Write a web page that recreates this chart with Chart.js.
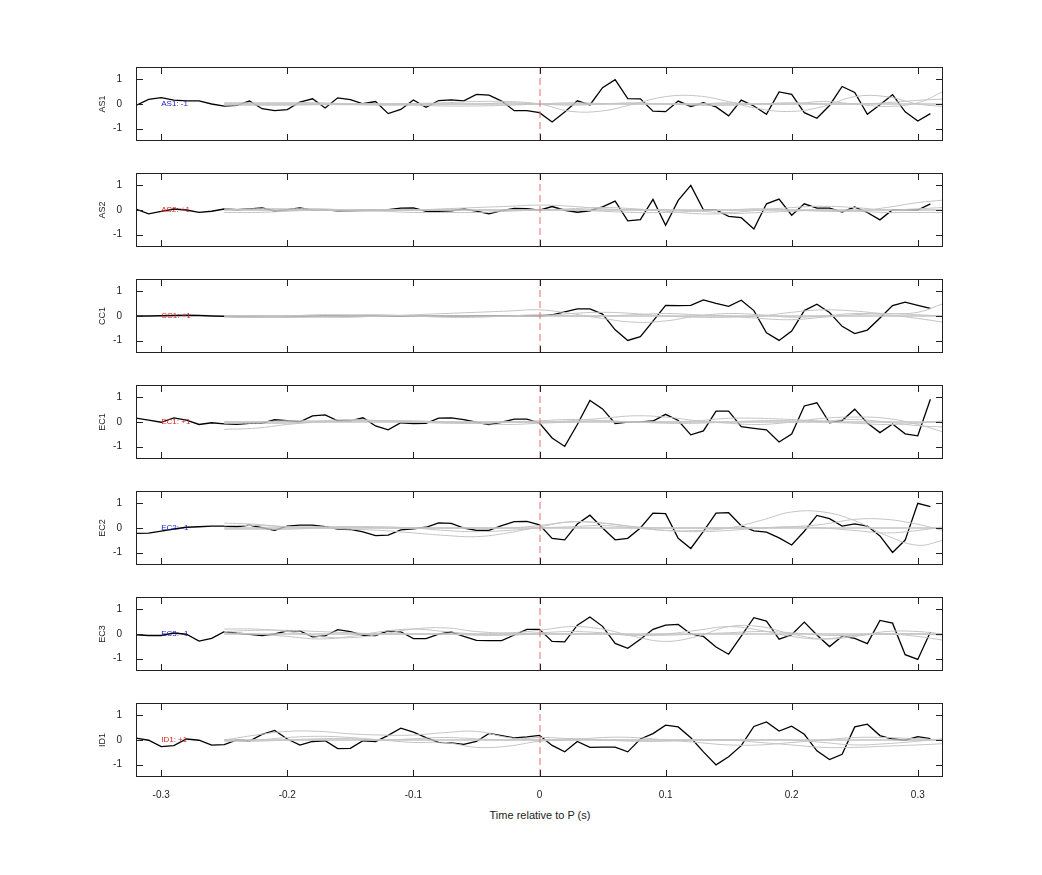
<!DOCTYPE html>
<html><head><meta charset="utf-8">
<script src="https://cdn.jsdelivr.net/npm/chart.js@4"></script>
<style>
body{margin:0;background:#fff;width:1042px;height:875px;position:relative;font-family:"Liberation Sans",Arial,sans-serif;overflow:hidden}
.w{position:absolute;left:86px;width:870px}
#xt{position:absolute;left:0;width:1080px;text-align:center;top:809px;font-size:11px;color:#222}
</style></head><body>
<div id="xt">Time relative to P (s)</div>
<script>
// time samples (s) for the black traces, -0.32 .. 0.31 step 0.01
const timeSec = Array.from({length:64},(_, i)=>Math.round((-0.32+0.01*i)*100)/100);
// time samples for the grey traces
const grayTime = [-0.25,-0.225,-0.2,-0.175,-0.15,-0.125,-0.1,-0.075,-0.05,-0.025,0,0.025,0.05,0.075,0.1,0.125,0.15,0.175,0.2,0.225,0.25,0.275,0.3,0.32];

const channels = ["AS1","AS2","CC1","EC1","EC2","EC3","ID1"];
const polarity = ["AS1: -1","AS2: +1","CC1: +1","EC1: +1","EC2: -1","EC3: -1","ID1: +1"];
const polColor = ["#1a1acc","#dd2222","#dd2222","#dd2222","#1a1acc","#1a1acc","#dd2222"];
const xTicks = [-0.3,-0.2,-0.1,0,0.1,0.2,0.3];
const yTicks = [-1,0,1];

const AS1 = [-0.06,0.19,0.26,0.16,0.13,0.13,0,-0.09,-0.06,0.12,-0.19,-0.27,-0.23,0.08,0.21,-0.16,0.25,0.18,0.01,0.1,-0.39,-0.22,0.16,-0.13,0.14,0.17,0.13,0.39,0.36,0.12,-0.27,-0.27,-0.35,-0.73,-0.32,0.13,-0.04,0.66,0.99,0.22,0.21,-0.29,-0.31,0.12,-0.1,0.05,-0.12,-0.48,0.16,-0.08,-0.42,0.49,0.39,-0.35,-0.58,-0.06,0.71,0.47,-0.42,-0.03,0.38,-0.32,-0.69,-0.39];
const AS2 = [0.04,-0.16,-0.06,0.04,0,-0.1,-0.05,0.04,0.01,0.04,0.08,-0.04,0.01,0.08,-0.01,0.01,-0.03,-0.03,-0.01,-0.01,0.01,0.08,0.09,-0.05,-0.05,-0.03,0.04,-0.05,-0.16,-0.03,0.06,0.05,-0.01,0.14,-0.01,-0.09,-0.03,0.13,0.36,-0.44,-0.39,0.43,-0.62,0.39,1.0,0.01,0,-0.26,-0.31,-0.77,0.25,0.44,-0.21,0.25,0.08,0.08,-0.08,0.12,-0.1,-0.4,0.01,0.01,0,0.25];
const CC1 = [0,0,0.01,0.02,0.03,0.02,0,-0.01,-0.02,-0.02,-0.02,-0.02,-0.02,-0.01,0,0.01,0.01,0,0,0,-0.01,-0.01,-0.01,0,0,0,0,0.01,0.01,0.01,0.01,0.01,0,0.05,0.17,0.29,0.29,0.08,-0.56,-0.99,-0.84,-0.21,0.43,0.42,0.43,0.65,0.51,0.39,0.64,0.22,-0.68,-0.99,-0.61,0.22,0.48,0.14,-0.42,-0.71,-0.57,-0.08,0.42,0.56,0.43,0.31];
const EC1 = [0.16,0.08,-0.01,0.17,0.08,-0.1,-0.03,-0.08,-0.1,-0.05,-0.05,0.09,0.05,0.01,0.25,0.29,0.05,0.05,0.17,-0.16,-0.32,-0.03,-0.06,-0.05,0.16,0.17,0.1,-0.01,-0.1,-0.01,0.12,0.12,-0.04,-0.65,-0.99,-0.1,0.87,0.53,-0.06,0,0,0.04,0.31,0.06,-0.52,-0.36,0.44,0.44,-0.19,-0.26,-0.32,-0.81,-0.49,0.65,0.78,-0.03,0.06,0.52,-0.04,-0.43,-0.08,-0.48,-0.56,0.92];
const EC2 = [-0.22,-0.21,-0.13,-0.04,0.03,0.05,0.08,0.08,0.05,0.12,0.01,-0.09,0.08,0.12,0.12,0.06,-0.04,-0.06,-0.16,-0.31,-0.29,-0.08,-0.03,0.03,0.21,0.19,0,-0.1,-0.1,0.1,0.26,0.27,0.13,-0.42,-0.48,0.16,0.52,0,-0.48,-0.42,0,0.6,0.58,-0.42,-0.83,-0.14,0.6,0.62,0.09,-0.12,-0.17,-0.4,-0.69,-0.13,0.51,0.38,0.08,0.17,0.08,-0.32,-0.99,-0.49,1.0,0.87];
const EC3 = [-0.03,-0.06,-0.06,0.04,-0.01,-0.29,-0.18,0.09,0.03,-0.01,-0.06,0,0.13,0.13,-0.12,-0.08,0.18,0.1,-0.05,-0.06,0.13,0.09,-0.19,-0.19,-0.01,0.08,-0.1,-0.26,-0.27,-0.27,-0.04,0.19,0.19,-0.3,-0.32,0.36,0.69,0.31,-0.38,-0.58,-0.21,0.19,0.36,0.39,0,-0.1,-0.53,-0.82,-0.09,0.66,0.52,-0.21,-0.03,0.48,-0.04,-0.51,-0.09,-0.18,-0.39,0.55,0.44,-0.84,-1.03,0.08];
const ID1 = [0.08,-0.01,-0.27,-0.23,0.04,-0.01,-0.21,-0.19,0,-0.04,0.23,0.39,0.04,-0.21,-0.06,-0.03,-0.35,-0.34,-0.03,-0.06,0.19,0.48,0.32,0.1,-0.1,-0.12,-0.18,-0.06,0.27,0.18,0.09,0.13,0.19,-0.22,-0.48,-0.06,-0.3,-0.29,-0.29,-0.48,0.04,0.26,0.6,0.53,0.09,-0.48,-1.01,-0.68,-0.23,0.55,0.73,0.36,0.56,0.23,-0.44,-0.79,-0.58,0.53,0.64,0.18,0.04,-0.01,0.14,0.06];

const grayAS1 = [
 [0,0,0,0,0,0,0.02,0.05,0.1,0.1,0,-0.3,-0.28,0,0.3,0.33,0.1,-0.2,-0.3,-0.1,0.3,0.3,0,-0.1],
 [0.05,0.05,0.05,0.05,0,0,0,0,0,0.05,0,-0.05,0,0.05,0,0,0.05,0,0,0.1,0,-0.1,0.05,0.5],
 [-0.05,-0.05,-0.05,-0.03,-0.03,-0.05,-0.05,-0.08,-0.08,-0.05,0,0.05,0.02,0,0,-0.05,-0.05,0,0.05,0,0,0.05,0.15,0.2]];
const grayAS2 = [
 [-0.1,-0.1,-0.05,0,0,0,0,0.05,0.1,0.15,0.2,0.15,0.05,0,0,-0.05,-0.1,0,0.1,0.15,0.1,0,0.05,0.1],
 [0.05,0,0,0,-0.05,-0.05,-0.1,-0.1,-0.1,-0.05,0,0,-0.05,-0.1,-0.1,-0.05,0,0.05,0,-0.05,-0.05,0.1,0.3,0.4],
 [0,0.05,0.05,0.05,0,0,0,0,0,0,0,0.05,0.1,0.05,-0.05,-0.15,-0.15,-0.1,-0.05,0,-0.05,-0.1,-0.1,-0.1]];
const grayCC1 = [
 [0,0,0,0,0,0,0.05,0.1,0.15,0.2,0.25,0.1,-0.1,-0.25,-0.2,0,0.1,0.05,-0.05,0,0.1,0.05,-0.1,-0.25],
 [0,0,-0.05,-0.05,-0.05,0,0,0,0,0,0,0.1,0.15,0.1,0,-0.05,-0.05,0,0.15,0.25,0.2,0.1,0.15,0.5],
 [-0.05,-0.05,0,0.05,0.05,0.05,0,-0.05,-0.05,0,0.05,0,0,0.05,0.1,0.05,0,-0.1,-0.15,-0.05,0.05,0.1,0.05,0]];
const grayEC1 = [
 [-0.3,-0.25,-0.1,0,0.05,0.05,0,0,0,0,0,0.05,0.15,0.25,0.2,0.05,-0.05,-0.1,0,0.15,0.2,0.15,-0.1,-0.4],
 [0,0,0.05,0.05,0.1,0.05,0,-0.05,-0.05,0,0.05,0.1,0.05,0,0,0.05,0.15,0.15,0.1,0.05,0.1,0,-0.15,-0.2],
 [-0.05,-0.05,-0.05,0,0.05,0.05,0.05,0,-0.05,-0.1,-0.05,0,0.05,0,-0.05,-0.05,0,0.05,0.05,0,-0.05,-0.1,-0.05,0.05]];
const grayEC2 = [
 [0.1,0.1,0.05,0,-0.05,-0.1,-0.2,-0.3,-0.35,-0.2,0.05,0.25,0.2,0.05,-0.1,-0.1,0,0.3,0.65,0.65,0.3,-0.3,-0.7,-0.5],
 [0.2,0.15,0.05,0.05,0.05,0,0,0,0,0,0.1,0.25,0.2,0.05,0,0,0,0,0.05,0.15,0.35,0.35,0.15,-0.1],
 [-0.05,-0.05,-0.05,0,0.05,0.05,0,-0.1,-0.15,-0.1,0,0.05,0.1,0,-0.1,-0.15,-0.1,0,0.05,0,-0.1,-0.2,-0.1,0.05]];
const grayEC3 = [
 [0.2,0.2,0.1,-0.1,-0.15,0,0.2,0.25,0.1,0.05,0.15,0.3,0.2,-0.1,-0.3,-0.1,0.3,0.3,0,-0.2,-0.1,0.1,0.1,0],
 [0.05,0,-0.1,-0.2,-0.1,0.1,0.2,0.1,0,0,0.05,0.1,0.05,-0.05,0,0.15,0.3,0.15,-0.1,-0.2,-0.05,0,-0.1,-0.25],
 [0.1,0.15,0.15,0.1,0.05,0,0,0,-0.05,-0.05,0,0,0,-0.05,-0.05,0,0.05,0.1,0.05,-0.05,-0.05,0,0,-0.05]];
const grayID1 = [
 [0,0.2,0.35,0.35,0.25,0.2,0.2,0.3,0.35,0.1,0,0.05,0,-0.05,-0.05,0,0,0,0,-0.1,-0.2,-0.15,-0.05,0.05],
 [0,0,0.1,0.15,0.1,0,-0.1,-0.1,-0.3,-0.25,-0.05,0,0.1,0.1,0,-0.1,-0.2,-0.2,-0.1,0,0.1,0.1,0.05,0],
 [-0.05,-0.05,0,0.05,0.05,0,0.05,0.1,0.05,0,0.1,0.05,0,0,0,0,0,-0.1,-0.2,-0.3,-0.3,-0.25,-0.2,-0.15]];
const grayFlat = [0,0,0,0,0,0,0,0,0,0,0,0,0,0,0,0,0,0,0,0,0,0,0,0];

const blackSeries = [AS1,AS2,CC1,EC1,EC2,EC3,ID1];
const graySeries = [grayAS1,grayAS2,grayCC1,grayEC1,grayEC2,grayEC3,grayID1];
const panelTops = [67,173,279,385,491,597,703];

const frame = {
  id:'frame',
  afterDraw(c, a, o){
    const ctx=c.ctx, ca=c.chartArea, xs=c.scales.x, ys=c.scales.y;
    ctx.save();
    ctx.strokeStyle='#e07070'; ctx.lineWidth=1; ctx.setLineDash([7,4]);
    const x0=xs.getPixelForValue(0);
    ctx.beginPath(); ctx.moveTo(x0+0.5,ca.top); ctx.lineTo(x0+0.5,ca.bottom); ctx.stroke();
    ctx.setLineDash([]);
    ctx.strokeStyle='#222'; ctx.lineWidth=1;
    ctx.strokeRect(ca.left+0.5,ca.top+0.5,ca.right-ca.left-1,ca.bottom-ca.top-1);
    ctx.beginPath();
    xTicks.forEach(v=>{const p=Math.round(xs.getPixelForValue(v))+0.5;
      ctx.moveTo(p,ca.bottom);ctx.lineTo(p,ca.bottom-7);ctx.moveTo(p,ca.top);ctx.lineTo(p,ca.top+7);});
    yTicks.forEach(v=>{const p=Math.round(ys.getPixelForValue(v))+0.5;
      ctx.moveTo(ca.left,p);ctx.lineTo(ca.left+7,p);ctx.moveTo(ca.right,p);ctx.lineTo(ca.right-7,p);});
    ctx.stroke();
    ctx.fillStyle=o.color; ctx.font='8px "Liberation Sans", Arial'; ctx.textBaseline='middle';
    ctx.fillText(o.text, xs.getPixelForValue(-0.3), ys.getPixelForValue(0));
    ctx.translate(ca.left-33, (ca.top+ca.bottom)/2); ctx.rotate(-Math.PI/2);
    ctx.fillStyle='#222'; ctx.textAlign='center'; ctx.textBaseline='middle';
    ctx.font='9px "Liberation Sans", Arial';
    ctx.fillText(o.name,0,0);
    ctx.restore();
  }
};

channels.forEach((name,k)=>{
  const last = k===channels.length-1;
  const div=document.createElement('div'); div.className='w';
  div.style.top=panelTops[k]+'px';
  const h = 74+(last?22:0);
  div.style.height=h+'px';
  const cv=document.createElement('canvas'); div.appendChild(cv); document.body.appendChild(div);
  const ds=[];
  graySeries[k].forEach(g=>ds.push({data:grayTime.map((t,i)=>({x:t,y:g[i]})),borderColor:'#c4c4c4',borderWidth:1,tension:0.4,pointRadius:0}));
  ds.push({data:grayTime.map((t,i)=>({x:t,y:grayFlat[i]})),borderColor:'#c4c4c4',borderWidth:1.5,pointRadius:0});
  ds.push({data:timeSec.map((t,i)=>({x:t,y:blackSeries[k][i]})),borderColor:'#000',borderWidth:1.3,pointRadius:0,tension:0});
  new Chart(cv,{type:'line',data:{datasets:ds},
    options:{responsive:true,maintainAspectRatio:false,animation:false,
      layout:{padding:{top:0,right:13,left:0,bottom:0}},
      plugins:{legend:{display:false},tooltip:{enabled:false},frame:{text:polarity[k],color:polColor[k],name:name}},
      scales:{
        x:{type:'linear',display:last,min:-0.32,max:0.32,grid:{display:false},border:{display:false},
          afterBuildTicks:s=>{s.ticks=xTicks.map(v=>({value:v}));},
          afterFit:s=>{s.height=last?22:0;s.paddingLeft=0;s.paddingRight=0;},
          ticks:{color:'#222',font:{size:10,family:'"Liberation Sans", Arial'},padding:4,maxRotation:0,
            callback:v=>String(Math.round(v*10)/10)}},
        y:{min:-1.5,max:1.5,grid:{display:false},border:{display:false},
          afterBuildTicks:s=>{s.ticks=yTicks.map(v=>({value:v}));},
          afterFit:s=>{s.width=50;s.paddingTop=0;s.paddingBottom=0;},
          ticks:{color:'#222',font:{size:10,family:'"Liberation Sans", Arial'},padding:6}}
      }},
    plugins:[frame]});
});
</script></body></html>
